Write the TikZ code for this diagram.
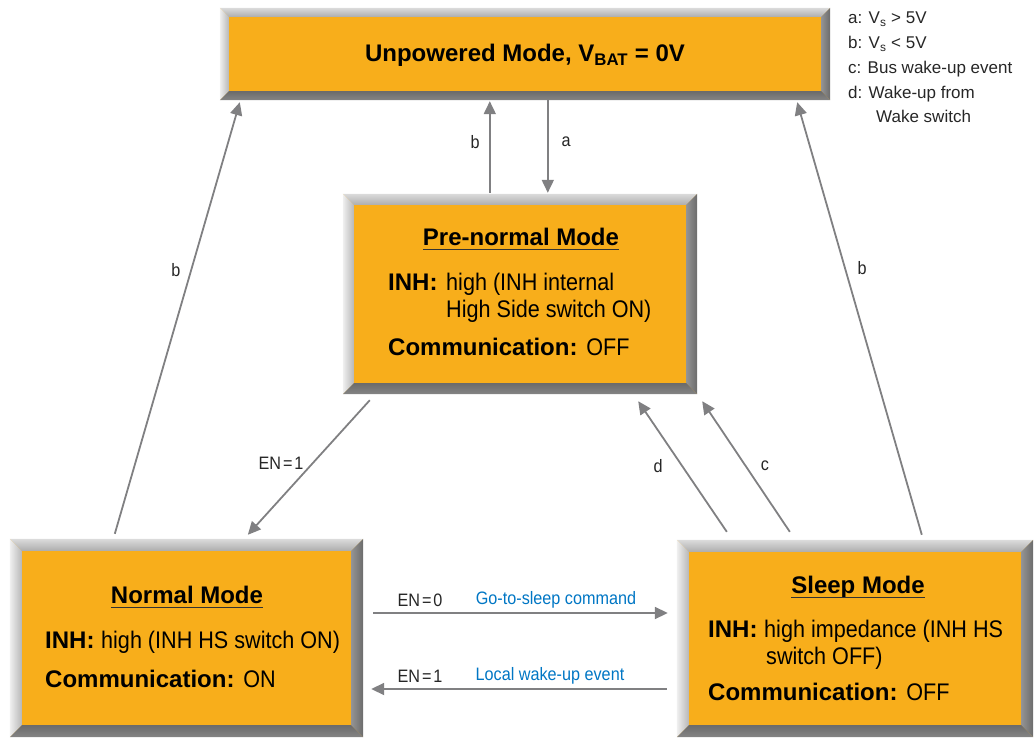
\documentclass[tikz,border=0pt]{standalone}
\usepackage{fontspec}
\setmainfont{Liberation Sans}
\newfontfamily\cond{Liberation Sans}[FakeStretch=0.9]
\usetikzlibrary{arrows.meta,calc}
\definecolor{modeorange}{RGB}{248,174,27}
\definecolor{arrowgray}{RGB}{128,128,130}
\definecolor{eventblue}{RGB}{0,118,196}

\tikzset{
  modebox/.style={rectangle, inner sep=0pt, fill=modeorange},
  flow/.style={draw=arrowgray, line width=1.8pt, -{Triangle[length=13pt,width=12pt]}},
  lbl/.style={font=\cond\fontsize{18}{20}\selectfont, inner sep=0pt, text=black!85},
  ev/.style={lbl, text=eventblue},
  legend/.style={font=\fontsize{17}{20}\selectfont, inner sep=0pt, anchor=base west, text=black!85},
  title/.style={font=\bfseries\fontsize{24}{28}\selectfont, inner sep=0pt, anchor=base},
  body/.style={font=\fontsize{24}{28}\selectfont, inner sep=0pt, anchor=base west},
}

% raised frame round a mode box: four shaded trapezoids
\newcommand\bevel[2]{%
  \shade[top color=black!14, bottom color=black!32]
    (#1.north west) -- (#1.north east) -- ($(#1.north east)+(-#2,#2)$) -- ($(#1.north west)+(#2,#2)$) -- cycle;
  \shade[left color=black!6, right color=black!28]
    (#1.north west) -- ($(#1.north west)+(#2,#2)$) -- ($(#1.south west)+(#2,-#2)$) -- (#1.south west) -- cycle;
  \shade[left color=black!42, right color=black!58]
    (#1.north east) -- (#1.south east) -- ($(#1.south east)+(-#2,-#2)$) -- ($(#1.north east)+(-#2,#2)$) -- cycle;
  \shade[top color=black!58, bottom color=black!48]
    (#1.south west) -- ($(#1.south west)+(#2,-#2)$) -- ($(#1.south east)+(-#2,-#2)$) -- (#1.south east) -- cycle;
}
% underline below a title node
\newcommand\uline[1]{%
  \draw[line width=1.6pt, black!80] ([yshift=-4.5pt]#1.base west) -- ([yshift=-4.5pt]#1.base east);
}

\begin{document}
\begin{tikzpicture}[x=1pt, y=-1pt]
\useasboundingbox (0,0) rectangle (1036,738);

% mode boxes
\node[modebox, minimum width=610pt, minimum height=92pt] (top) at (525,54) {};
\node[modebox, minimum width=354pt, minimum height=200pt] (pre) at (520,294) {};
\node[modebox, minimum width=353pt, minimum height=198pt] (normal) at (186.5,638) {};
\node[modebox, minimum width=356pt, minimum height=197pt] (sleep) at (855,638.5) {};
\bevel{top}{9}
\bevel{pre}{11}
\bevel{normal}{12}
\bevel{sleep}{12}

% box texts
\node[title] (toptxt) at (525,62) {Unpowered Mode, V\textsubscript{BAT} = 0V};

\node[title] (pretitle) at (521,245) {Pre-normal Mode};
\uline{pretitle}
\node[body] (preinh) at (388,290) {\bfseries INH:};
\node[body] (preinh1) at (446,290) {\cond high (INH internal};
\node[body] (preinh2) at (446,317) {\cond High Side switch ON)};
\node[body] (precom) at (388,355) {\bfseries Communication: {\mdseries\cond OFF}};

\node[title] (normtitle) at (187,603) {Normal Mode};
\uline{normtitle}
\node[body] (norminh) at (45,648) {\bfseries INH: {\mdseries\cond high (INH HS switch ON)}};
\node[body] (normcom) at (45,687) {\bfseries Communication: {\mdseries\cond ON}};

\node[title] (sleeptitle) at (858,593) {Sleep Mode};
\uline{sleeptitle}
\node[body] (sleepinh) at (708,637) {\bfseries INH: {\mdseries\cond high impedance (INH HS}};
\node[body] (sleepinh2) at (766,664) {\cond switch OFF)};
\node[body] (sleepcom) at (708,700) {\bfseries Communication: {\mdseries\cond OFF}};

% transitions
\draw[flow] ($(pre.north west)+(147,-1)$) -- ($(top.south west)+(270,1)$);
\draw[flow] ($(top.south west)+(328,0)$) -- ($(pre.north west)+(205,-1)$);
\draw[flow] ($(normal.north west)+(105,-5)$) -- ($(top.south west)+(20,2)$);
\draw[flow] ($(sleep.north west)+(245,-5)$) -- ($(top.south east)+(-33,2)$);
\draw[flow] ($(pre.south west)+(27,6)$) -- ($(normal.north west)+(238,-4)$);
\draw[flow] ($(sleep.north west)+(50,-8)$) -- ($(pre.south east)+(-59,7)$);
\draw[flow] ($(sleep.north west)+(113,-8)$) -- ($(pre.south east)+(5,7)$);
\draw[flow] ($(normal.east)+(10,-25)$) -- ($(sleep.west)+(-9,-25.5)$);
\draw[flow] ($(sleep.west)+(-10,50.5)$) -- ($(normal.east)+(8,51)$);

% transition labels
\node[lbl] (lb1) at (475,142) {b};
\node[lbl] (la) at (566,142) {a};
\node[lbl] (lb2) at (176,270) {b};
\node[lbl] (lb3) at (862,268) {b};
\node[lbl] (len1) at (281,463) {EN\kern2pt=\kern2pt1};
\node[lbl] (ld) at (658,466) {d};
\node[lbl] (lc) at (765,466) {c};
\node[lbl] (len0) at (420,600) {EN\kern2pt=\kern2pt0};
\node[ev] (lsleep) at (556,600) {Go-to-sleep command};
\node[lbl] (len1b) at (420,676) {EN\kern2pt=\kern2pt1};
\node[ev] (lwake) at (550,676) {Local wake-up event};

% legend
\node[legend] (leg1) at (848,24) {a: V\textsubscript{s} > 5V};
\node[legend] (leg2) at (848,49) {b: V\textsubscript{s} < 5V};
\node[legend] (leg3) at (848,74) {c: Bus wake-up event};
\node[legend] (leg4) at (848,99) {d: Wake-up from};
\node[legend] (leg5) at (876,123) {Wake switch};
\end{tikzpicture}
\end{document}
